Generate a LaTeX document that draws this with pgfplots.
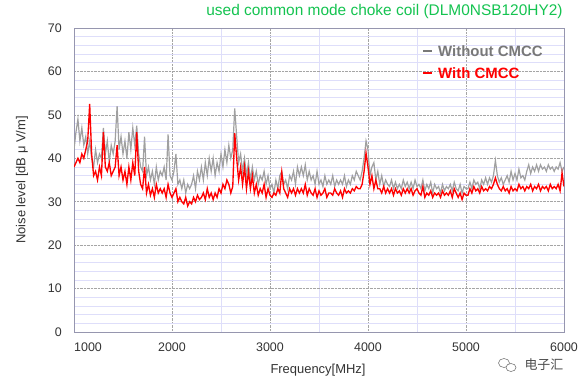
\documentclass[border=0pt]{standalone}
\usepackage{pgfplots}
\pgfplotsset{compat=1.18}
\usepackage{pgfplotstable}
\usepackage{fontspec}
\setmainfont{Liberation Sans}
\newfontfamily\cjk{Noto Sans CJK SC}
\definecolor{titlegreen}{RGB}{20,195,80}
\definecolor{datagray}{RGB}{160,160,160}
\definecolor{leggray}{RGB}{120,120,120}
\definecolor{datared}{RGB}{255,0,0}
\definecolor{gridlav}{RGB}{222,222,250}
\definecolor{gridgray}{RGB}{165,165,165}
\definecolor{axisline}{RGB}{150,150,175}
\pgfplotstableread{
f g r
1000 42 38
1020 46 39
1040 49 40
1060 44 39
1080 47 41
1100 43 40
1120 45 42
1140 41 44
1160 44 52.5
1180 40 41
1200 38 36
1220 42 37
1240 39 35
1260 41 38
1280 40 36
1300 47 46
1320 41 38
1340 44 37
1360 39 39
1380 43 36
1400 41 37
1420 44 38
1440 52 43
1460 42 36
1480 45 38
1500 41 35
1520 44 37
1540 40 34
1560 46 38
1580 42 35
1600 47 39
1620 43 36
1640 47.5 46
1660 41 37
1680 38 34
1700 37 33
1720 45 38
1740 36 32
1760 38 34
1780 35 31.5
1800 37 33
1820 34 31
1840 38 34
1860 35 32
1880 37 33
1900 36 32
1920 38 33
1940 35 31
1960 45.5 34
1980 36 32
2000 35 31
2020 37 32
2040 41 33
2060 34 30
2080 35 31
2100 33 30
2120 35 29.5
2140 32 31
2160 34 29
2180 33 30
2200 34 29.5
2220 36 31
2240 33 30
2260 37 31.5
2280 35 30.5
2300 38 31
2320 35 32
2340 39 30.5
2360 36 33
2380 40 31
2400 37 32
2420 40 30.5
2440 36 32
2460 39 31
2480 37 33
2500 41 32
2520 38 34
2540 42 33
2560 39 35
2580 43 34
2600 40 32
2620 42 33.5
2640 51.5 45.8
2660 45 40
2680 39 35
2700 41 38
2720 37 34
2740 40 38
2760 36 33
2780 39 37
2800 35 33
2820 38 36
2840 35 32
2860 37 34
2880 34 31.5
2900 36 33
2920 35 32
2940 37 34
2960 34 31
2980 36 33
3000 33 31.5
3020 34 31
3040 32 32
3060 35 31.5
3080 33 33
3100 36 32
3120 37 36.8
3140 34 33
3160 35 32
3180 33 31
3200 36 33
3220 35 32
3240 37 33
3260 34 31.5
3280 38 33
3300 36 32
3320 38 33
3340 36 32
3360 38.5 34
3380 35 31.5
3400 37 33
3420 35 32
3440 36 31.5
3460 34 33
3480 37 31
3500 34 32.5
3520 35 31.5
3540 33.5 32
3560 36 33
3580 34 31
3600 35 32
3620 34 32
3640 36 31.5
3660 33.5 33
3680 35 32
3700 34 31.5
3720 35 32.5
3740 34 31
3760 36 33
3780 33.5 32
3800 35 32.5
3820 34 32
3840 36 33
3860 35 32.5
3880 37 33.5
3900 36 33
3920 35 33
3940 37 34
3960 40 37
3980 44 41.2
4000 42 38
4020 36 34
4040 38 36
4060 39 33
4080 35 35
4100 37 33
4120 34 33
4140 36 32
4160 33.5 33.5
4180 35 32
4200 34 33
4220 33.5 32
4240 35 33
4260 33 31.5
4280 34.5 33
4300 33 32
4320 34 32.5
4340 33 31.5
4360 35 33
4380 33.5 32
4400 34.5 33
4420 33 32
4440 34.5 33
4460 33 31.5
4480 35 32.5
4500 33.5 33
4520 34 32
4540 33 31.5
4560 35 33.5
4580 32.5 31
4600 34 32
4620 33 31.5
4640 34.5 32.5
4660 32 31
4680 34 32
4700 33 31.5
4720 33.5 32
4740 32 31
4760 34 32.5
4780 32.5 31.5
4800 33.5 32
4820 33 31.5
4840 34 32.5
4860 32.5 31
4880 34.5 33
4900 33 32
4920 32.5 31
4940 34 32
4960 32 30.5
4980 33.5 32
5000 33 31.5
5020 33 31.5
5040 34.5 33
5060 33 32
5080 35 33.5
5100 34 32.5
5120 34.5 33
5140 33 32
5160 35 33.5
5180 34 32.5
5200 35.5 33
5220 34 32.5
5240 35.5 33.5
5260 34.5 33
5280 36 34
5300 39.5 35.5
5320 36 34
5340 34.5 33
5360 35.5 32.5
5380 34 33.5
5400 35 32.5
5420 36 33
5440 34.5 32
5460 37 33.5
5480 35 32.5
5500 36.5 33
5520 35 32.5
5540 37.5 34
5560 35.5 33
5580 36 33.5
5600 35 32.5
5620 37 33.5
5640 38.5 33
5660 36.5 34
5680 38 32.5
5700 37 33.5
5720 38.5 33
5740 37 34
5760 38.5 32.5
5780 37.5 33.5
5800 38 33
5820 37 33.5
5840 38.5 32.5
5860 37.5 34
5880 38 33
5900 37 33.5
5920 38 33
5940 37.5 34
5960 39 32.5
5980 37 36.6
6000 38 33.5
}\noisedata
\begin{document}
\begin{tikzpicture}
\useasboundingbox (-74bp,-57bp) rectangle (509bp,332bp);
\begin{axis}[
  at={(0,0)}, anchor=south west,
  scale only axis, width=490bp, height=304bp,
  xmin=1000, xmax=6000, ymin=0, ymax=70,
  xtick={2000,3000,4000,5000,6000},
  xticklabels={2000,3000,4000,5000,6000},
  extra x ticks={1000},
  extra x tick labels={1000},
  extra x tick style={xticklabel style={anchor=north west, xshift=0bp}, grid=none},
  minor x tick num=1,
  ytick={0,10,...,70},
  minor y tick num=4,
  major tick length=0pt, minor tick length=0pt,
  grid=both,
  major grid style={gridgray, densely dotted, line width=0.5pt},
  minor grid style={gridlav, line width=0.5pt},
  axis line style={axisline, line width=0.8pt},
  tick label style={font=\fontsize{12.5}{14}\selectfont, text=black!80},
  xticklabel style={inner sep=0pt, anchor=north, yshift=-11bp},
  yticklabel style={inner sep=0pt, anchor=east, xshift=-12bp},
  /pgf/number format/assume math mode=true,
  clip=true,
]
\addplot[datagray, line width=1.2pt] table[x=f, y=g] {\noisedata};
\addplot[datared, line width=1.35pt] table[x=f, y=r] {\noisedata};
\end{axis}
\node[font=\bfseries\fontsize{15}{18}\selectfont, anchor=west, inner sep=0pt] at (349bp,281bp)
  {\textcolor{leggray}{\rule[0.3em]{9bp}{1.4pt}}\hspace{6bp}\textcolor{leggray}{Without CMCC}};
\node[font=\bfseries\fontsize{15}{18}\selectfont, anchor=west, inner sep=0pt] at (349bp,259bp)
  {\textcolor{datared}{\rule[0.3em]{9bp}{1.4pt}}\hspace{6bp}\textcolor{datared}{With CMCC}};
\node[font=\fontsize{15.5}{18}\selectfont, text=titlegreen, anchor=center] at (310.5bp,320bp) {used common mode choke coil (DLM0NSB120HY2)};
\node[font=\fontsize{13}{15}\selectfont, text=black!80, rotate=90, anchor=center] at (-52bp,152bp) {Noise level [dB μ V/m]};
\node[font=\fontsize{13}{15}\selectfont, text=black!80, anchor=center] at (244bp,-38bp) {Frequency[MHz]};
\node[font=\cjk\fontsize{13}{15}\selectfont, text=black!70, anchor=west] at (447bp,-33bp) {电子汇};
\draw[black!55, line width=0.6pt] (430bp,-31bp) ellipse (5.5bp and 4.5bp);
\draw[black!55, line width=0.6pt, fill=white] (437bp,-35.5bp) ellipse (5bp and 4bp);
\end{tikzpicture}
\end{document}
